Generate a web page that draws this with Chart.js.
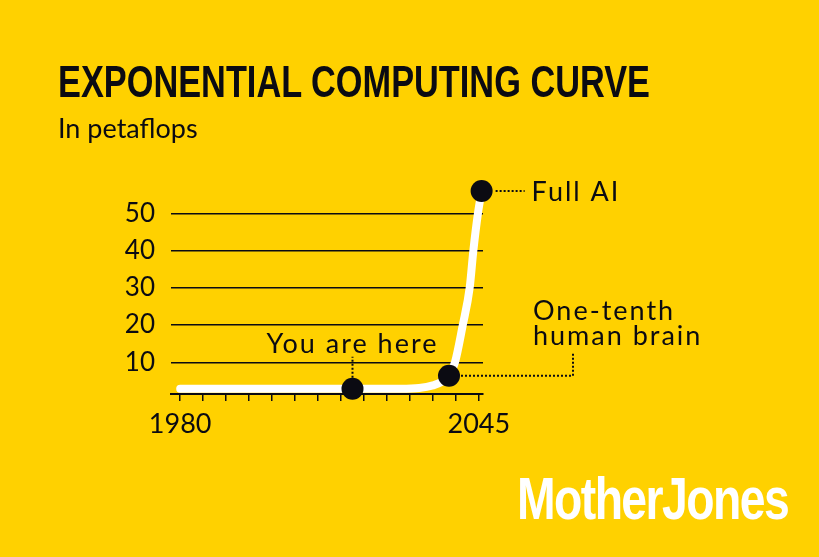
<!DOCTYPE html>
<html>
<head>
<meta charset="utf-8">
<script src="https://cdn.jsdelivr.net/npm/chart.js@4/dist/chart.umd.min.js"></script>
<style>
  html, body { margin: 0; padding: 0; background: #FFD100; }
  body { width: 819px; height: 557px; position: relative; overflow: hidden; color: #0b0b12; }
  #chart { position: absolute; left: 0; top: 0; }
  .title { position: absolute; left: 58px; top: 59px; font-family: "Liberation Sans Narrow", sans-serif; font-weight: bold; font-size: 45px; line-height: 45px; white-space: nowrap; transform-origin: left top; }
  .subtitle { position: absolute; left: 58px; top: 114px; font-family: Lato, sans-serif; font-size: 27px; line-height: 27px; white-space: nowrap; }
  .logo { position: absolute; left: 517px; top: 470px; font-family: "Liberation Sans Narrow", sans-serif; font-weight: bold; font-size: 59px; line-height: 59px; letter-spacing: -2px; color: #fff; white-space: nowrap; transform-origin: left top; }
</style>
</head>
<body>
<canvas id="chart" width="819" height="557"></canvas>
<div class="title" id="title">EXPONENTIAL COMPUTING CURVE</div>
<div class="subtitle">In petaflops</div>
<div class="logo" id="logo">MotherJones</div>
<script>
// curve
const years = [1980, 1990, 2000, 2010, 2020, 2028, 2032, 2035, 2037, 2038.5, 2039.8, 2041.5, 2043, 2043.8, 2044.8, 2045.6];
const petaflops = [2.9, 2.9, 2.9, 2.9, 2.9, 2.9, 3.1, 3.8, 4.8, 6.4, 10, 20, 30, 40, 50, 56];

// highlighted points
const markerYears = [2017.5, 2038.5, 2045.6];
const markerValues = [2.9, 6.4, 56];
const markerLabels = ['You are here', ['One-tenth', 'human brain'], 'Full AI'];

// axes
const tickYears = [1980, 1985, 1990, 1995, 2000, 2005, 2010, 2015, 2020, 2025, 2030, 2035, 2040, 2045];
const yearLabels = [1980, 2045];
const valueTicks = [10, 20, 30, 40, 50];

const ink = '#0b0b12';
const font = 'Lato, sans-serif';

// fit the condensed headline and logo to their widths
function fitWidth(id, w) {
  const el = document.getElementById(id);
  el.style.transform = 'scaleX(' + (w / el.offsetWidth) + ')';
}
fitWidth('title', 592);
fitWidth('logo', 271);

const annotate = {
  id: 'annotate',
  afterDatasetsDraw(chart) {
    const ctx = chart.ctx;
    const x = chart.scales.x, y = chart.scales.y;
    const px = markerYears.map(v => x.getPixelForValue(v));
    const py = markerValues.map(v => y.getPixelForValue(v));
    ctx.save();
    ctx.strokeStyle = ink;
    ctx.lineWidth = 2;
    ctx.setLineDash([2, 2]);
    ctx.beginPath();
    ctx.moveTo(px[0], py[0] - 11);
    ctx.lineTo(px[0], py[0] - 32);
    ctx.moveTo(px[1] + 12, py[1]);
    ctx.lineTo(px[1] + 124, py[1]);
    ctx.lineTo(px[1] + 124, py[1] - 22);
    ctx.moveTo(px[2] + 14, py[2]);
    ctx.lineTo(px[2] + 43, py[2]);
    ctx.stroke();
    ctx.setLineDash([]);

    ctx.fillStyle = ink;
    ctx.font = '27px ' + font;
    ctx.letterSpacing = '2px';
    ctx.textBaseline = 'alphabetic';
    ctx.textAlign = 'center';
    ctx.fillText(markerLabels[0], px[0], py[0] - 36);
    ctx.textAlign = 'left';
    ctx.fillText(markerLabels[1][0], px[1] + 84, py[1] - 56);
    ctx.fillText(markerLabels[1][1], px[1] + 84, py[1] - 31);
    ctx.fillText(markerLabels[2], px[2] + 50, py[2] + 10);
    ctx.restore();
  }
};

const config = {
  type: 'line',
  data: {
    datasets: [{
      data: markerYears.map((v, i) => ({ x: v, y: markerValues[i] })),
      showLine: false,
      pointRadius: 11,
      pointBackgroundColor: ink,
      pointBorderWidth: 0,
      clip: false,
      order: 0
    }, {
      data: years.map((v, i) => ({ x: v, y: petaflops[i] })),
      borderColor: '#ffffff',
      borderWidth: 8,
      borderCapStyle: 'round',
      borderJoinStyle: 'round',
      cubicInterpolationMode: 'monotone',
      pointRadius: 0,
      clip: false,
      order: 1
    }]
  },
  options: {
    responsive: false,
    animation: false,
    layout: { padding: { left: 111, right: 336, top: 191, bottom: 113 } },
    scales: {
      x: {
        type: 'linear',
        min: 1978,
        max: 2045.9,
        afterBuildTicks: axis => { axis.ticks = tickYears.map(v => ({ value: v })); },
        afterFit: axis => { axis.height = 50; },
        grid: { drawOnChartArea: false, drawTicks: true, tickLength: 7, color: ink, lineWidth: 1.5 },
        border: { display: true, color: ink, width: 2 },
        ticks: {
          autoSkip: false,
          maxRotation: 0,
          padding: 7,
          color: ink,
          font: { family: font, size: 27 },
          callback: v => yearLabels.includes(v) ? String(v) : ''
        }
      },
      y: {
        min: 1.5,
        max: 56,
        afterBuildTicks: axis => { axis.ticks = valueTicks.map(v => ({ value: v })); },
        afterFit: axis => { axis.width = 60; },
        grid: { drawTicks: false, color: ink, lineWidth: 1.5 },
        border: { display: false },
        ticks: {
          padding: 16,
          color: ink,
          font: { family: font, size: 26 }
        }
      }
    },
    plugins: {
      legend: { display: false },
      tooltip: { enabled: false }
    }
  },
  plugins: [annotate]
};

new Chart(document.getElementById('chart'), config);
</script>
</body>
</html>
